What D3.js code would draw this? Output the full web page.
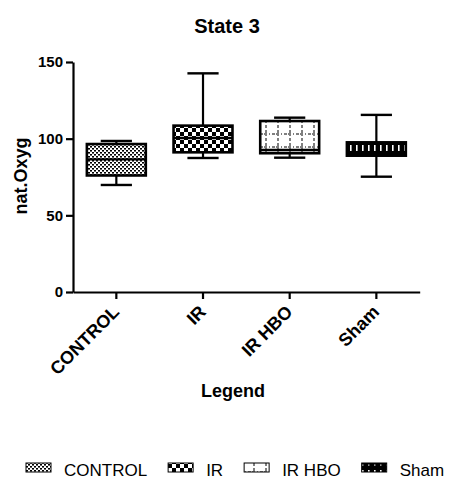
<!DOCTYPE html>
<html>
<head>
<meta charset="utf-8">
<script src="https://cdn.jsdelivr.net/npm/d3@7"></script>
<style>
  html, body { margin: 0; padding: 0; background: #fff; }
  svg { display: block; font-family: "Liberation Sans", Arial, sans-serif; }
</style>
</head>
<body>
<svg id="chart" width="452" height="479"></svg>
<script>
// ---- data ----
const categories = ["CONTROL", "IR", "IR HBO", "Sham"];
const minVals    = [69.8, 87.4, 87.6, 75.2];
const q1Vals     = [76.0, 91.1, 90.5, 88.9];
const medianVals = [86.5, 100.4, 92.6, 90.5];
const q3Vals     = [96.5, 108.5, 111.5, 97.6];
const maxVals    = [98.5, 142.6, 113.7, 115.5];
const yTicks     = [0, 50, 100, 150];
const patternIds = ["pCONTROL", "pIR", "pIRHBO", "pSham"];

const svg = d3.select("#chart");
const defs = svg.append("defs");

// CONTROL: fine stipple
{
  const p = defs.append("pattern").attr("id", "pCONTROL").attr("patternUnits", "userSpaceOnUse")
    .attr("width", 4).attr("height", 4);
  p.append("rect").attr("width", 4).attr("height", 4).attr("fill", "#fff");
  p.append("rect").attr("x", 0).attr("y", 0).attr("width", 2).attr("height", 1.6).attr("fill", "#000");
  p.append("rect").attr("x", 2).attr("y", 2).attr("width", 2).attr("height", 1.6).attr("fill", "#000");
}
// IR: checkerboard
{
  const p = defs.append("pattern").attr("id", "pIR").attr("patternUnits", "userSpaceOnUse")
    .attr("width", 8).attr("height", 8);
  p.append("rect").attr("width", 8).attr("height", 8).attr("fill", "#fff");
  p.append("rect").attr("x", 0).attr("y", 0).attr("width", 4).attr("height", 4).attr("fill", "#000");
  p.append("rect").attr("x", 4).attr("y", 4).attr("width", 4).attr("height", 4).attr("fill", "#000");
}
// IR HBO: dash-dot grid
{
  const p = defs.append("pattern").attr("id", "pIRHBO").attr("patternUnits", "userSpaceOnUse")
    .attr("width", 12).attr("height", 13);
  p.append("rect").attr("width", 12).attr("height", 13).attr("fill", "#fff");
  p.append("line").attr("x1", 2).attr("x2", 2).attr("y1", 0).attr("y2", 13)
    .attr("stroke", "#000").attr("stroke-width", 1).attr("stroke-dasharray", "3,2,1,2");
  p.append("line").attr("x1", 0).attr("x2", 12).attr("y1", 4).attr("y2", 4)
    .attr("stroke", "#000").attr("stroke-width", 1).attr("stroke-dasharray", "3,2,1,2");
}
// Sham: black with white vertical dashes
{
  const p = defs.append("pattern").attr("id", "pSham").attr("patternUnits", "userSpaceOnUse")
    .attr("width", 6).attr("height", 13);
  p.append("rect").attr("width", 6).attr("height", 13).attr("fill", "#000");
  p.append("rect").attr("x", 2).attr("y", 2).attr("width", 1.6).attr("height", 6).attr("fill", "#fff");
  p.append("rect").attr("x", 2.2).attr("y", 9.5).attr("width", 1.2).attr("height", 1.2).attr("fill", "#fff");
}

// ---- scales ----
const x = d3.scaleBand().domain(categories).range([73, 419.7]).paddingInner(0).paddingOuter(0);
const y = d3.scaleLinear().domain([0, 150]).range([292, 62]);
const boxW = x.bandwidth() * 0.68;
const capW = x.bandwidth() * 0.36;

// ---- title ----
svg.append("text").attr("x", 227).attr("y", 33).attr("text-anchor", "middle")
  .attr("font-size", 20).attr("font-weight", "bold").text("State 3");

// ---- y axis ----
const yAxis = svg.append("g").attr("transform", "translate(73,0)")
  .call(d3.axisLeft(y).tickValues(yTicks).tickSize(7).tickPadding(3).tickSizeOuter(0));
yAxis.select(".domain").attr("stroke", "#000").attr("stroke-width", 2.2);
yAxis.selectAll(".tick line").attr("stroke", "#000").attr("stroke-width", 2.2);
yAxis.selectAll(".tick text").attr("font-size", 15).attr("font-weight", "bold")
  .attr("font-family", "Liberation Sans, Arial, sans-serif").attr("fill", "#000");

// ---- x axis ----
const xAxis = svg.append("g").attr("transform", "translate(0,292)")
  .call(d3.axisBottom(x).tickSize(7).tickSizeOuter(0));
xAxis.select(".domain").attr("stroke", "#000").attr("stroke-width", 2.2);
xAxis.selectAll(".tick line").attr("stroke", "#000").attr("stroke-width", 2.2);
xAxis.selectAll(".tick text")
  .attr("font-size", 18).attr("font-weight", "bold")
  .attr("font-family", "Liberation Sans, Arial, sans-serif").attr("fill", "#000")
  .attr("text-anchor", "end").attr("dy", 0).attr("y", 0)
  .attr("transform", "translate(4,21) rotate(-45)");

// ---- axis titles ----
svg.append("text").attr("transform", "translate(27,176) rotate(-90)")
  .attr("text-anchor", "middle").attr("font-size", 18).attr("font-weight", "bold").text("nat.Oxyg");
svg.append("text").attr("x", 233).attr("y", 397).attr("text-anchor", "middle")
  .attr("font-size", 18).attr("font-weight", "bold").text("Legend");

// ---- boxes ----
const data = categories.map((c, i) => ({
  c, min: minVals[i], q1: q1Vals[i], med: medianVals[i], q3: q3Vals[i], max: maxVals[i], pat: patternIds[i]
}));
const g = svg.append("g");
const box = g.selectAll("g.box").data(data).join("g").attr("class", "box");
const cx = d => x(d.c) + x.bandwidth() / 2;
// whiskers
box.append("line").attr("x1", cx).attr("x2", cx).attr("y1", d => y(d.max)).attr("y2", d => y(d.q3))
  .attr("stroke", "#000").attr("stroke-width", 2.2);
box.append("line").attr("x1", cx).attr("x2", cx).attr("y1", d => y(d.q1)).attr("y2", d => y(d.min))
  .attr("stroke", "#000").attr("stroke-width", 2.2);
// caps
box.append("line").attr("x1", d => cx(d) - capW / 2).attr("x2", d => cx(d) + capW / 2)
  .attr("y1", d => y(d.max)).attr("y2", d => y(d.max)).attr("stroke", "#000").attr("stroke-width", 2.4);
box.append("line").attr("x1", d => cx(d) - capW / 2).attr("x2", d => cx(d) + capW / 2)
  .attr("y1", d => y(d.min)).attr("y2", d => y(d.min)).attr("stroke", "#000").attr("stroke-width", 2.4);
// box
box.append("rect").attr("x", d => cx(d) - boxW / 2).attr("width", boxW)
  .attr("y", d => y(d.q3)).attr("height", d => y(d.q1) - y(d.q3))
  .attr("fill", d => `url(#${d.pat})`).attr("stroke", "#000").attr("stroke-width", 2.6);
// median
box.append("line").attr("x1", d => cx(d) - boxW / 2).attr("x2", d => cx(d) + boxW / 2)
  .attr("y1", d => y(d.med)).attr("y2", d => y(d.med)).attr("stroke", "#000").attr("stroke-width", 2.4);

// ---- legend ----
const leg = svg.append("g");
let lx = 26;
categories.forEach((c, i) => {
  leg.append("rect").attr("x", lx).attr("y", 463).attr("width", 25).attr("height", 9)
    .attr("fill", `url(#${patternIds[i]})`).attr("stroke", "#000").attr("stroke-width", 1);
  const t = leg.append("text").attr("x", lx + 38).attr("y", 476)
    .attr("font-size", 17).attr("fill", "#000").text(c);
  lx = lx + 38 + t.node().getComputedTextLength() + 21;
});
</script>
</body>
</html>
